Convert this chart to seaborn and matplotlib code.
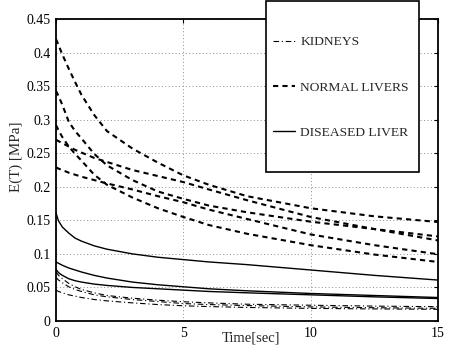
import numpy as np
import pandas as pd
import matplotlib
matplotlib.use('Agg')
import matplotlib.pyplot as plt
import seaborn as sns
from matplotlib.lines import Line2D
from matplotlib.patches import Rectangle

# time points (sec)
time = [0, 0.1, 0.25, 0.5, 0.75, 1, 1.5, 2, 3, 4, 5, 6, 7.5, 10, 12.5, 15]

# kidneys (dash-dot)
kidney_1 = [0.073, 0.068, 0.063, 0.056, 0.051, 0.047, 0.042, 0.038, 0.034, 0.031, 0.0287, 0.027, 0.025, 0.0235, 0.0222, 0.0213]
kidney_2 = [0.065, 0.061, 0.057, 0.051, 0.047, 0.044, 0.039, 0.036, 0.032, 0.029, 0.026, 0.0245, 0.023, 0.021, 0.0198, 0.0189]
kidney_3 = [0.046, 0.044, 0.042, 0.039, 0.037, 0.035, 0.032, 0.030, 0.027, 0.0245, 0.0227, 0.0215, 0.0202, 0.0188, 0.018, 0.0174]

# normal livers (dashed)
normal_1 = [0.42, 0.411, 0.397, 0.376, 0.356, 0.337, 0.307, 0.283, 0.257, 0.236, 0.217, 0.203, 0.186, 0.168, 0.156, 0.1475]
normal_2 = [0.343, 0.335, 0.322, 0.297, 0.283, 0.272, 0.249, 0.232, 0.21, 0.193, 0.182, 0.172, 0.162, 0.148, 0.137, 0.126]
normal_3 = [0.27, 0.268, 0.265, 0.26, 0.255, 0.251, 0.243, 0.237, 0.225, 0.216, 0.207, 0.196, 0.18, 0.155, 0.137, 0.12]
normal_4 = [0.292, 0.284, 0.274, 0.26, 0.249, 0.239, 0.218, 0.203, 0.184, 0.168, 0.155, 0.143, 0.13, 0.113, 0.099, 0.088]
normal_5 = [0.229, 0.227, 0.225, 0.221, 0.218, 0.215, 0.21, 0.205, 0.196, 0.186, 0.177, 0.166, 0.152, 0.129, 0.113, 0.0995]

# diseased liver (solid)
diseased_1 = [0.161, 0.149, 0.14, 0.131, 0.1235, 0.119, 0.112, 0.107, 0.1, 0.095, 0.0915, 0.088, 0.084, 0.076, 0.068, 0.061]
diseased_2 = [0.088, 0.086, 0.083, 0.079, 0.076, 0.073, 0.068, 0.064, 0.058, 0.054, 0.051, 0.048, 0.045, 0.041, 0.038, 0.035]
diseased_3 = [0.077, 0.072, 0.068, 0.063, 0.06, 0.058, 0.055, 0.053, 0.05, 0.048, 0.046, 0.044, 0.042, 0.039, 0.036, 0.0335]

x_ticks = [0, 5, 10, 15]
y_ticks = [0, 0.05, 0.1, 0.15, 0.2, 0.25, 0.3, 0.35, 0.4, 0.45]
y_tick_labels = ['0', '0.05', '0.1', '0.15', '0.2', '0.25', '0.3', '0.35', '0.4', '0.45']

groups = {
    'KIDNEYS': [kidney_1, kidney_2, kidney_3],
    'NORMAL LIVERS': [normal_1, normal_2, normal_3, normal_4, normal_5],
    'DISEASED LIVER': [diseased_1, diseased_2, diseased_3],
}
rows = []
for name, curves in groups.items():
    for i, c in enumerate(curves):
        for t, e in zip(time, c):
            rows.append({'tissue': name, 'curve': f'{name}_{i}', 't': t, 'E': e})
df = pd.DataFrame(rows)

styles = {
    'KIDNEYS': dict(lw=0.8, ls=(0, (5, 2.5, 1, 2.5))),
    'NORMAL LIVERS': dict(lw=1.5, ls=(0, (2.5, 2))),
    'DISEASED LIVER': dict(lw=1.0, ls='-'),
}

sns.set_style('white')
plt.rcParams['font.family'] = ['Liberation Serif', 'DejaVu Serif']

fig = plt.figure(figsize=(4.49, 3.51), dpi=100)
ax = fig.add_axes([56 / 449, 1 - 321 / 351, 382 / 449, 302 / 351])

for curve, sub in df.groupby('curve', sort=False):
    st = styles[sub['tissue'].iloc[0]]
    sns.lineplot(data=sub, x='t', y='E', color='k', linewidth=st['lw'],
                 linestyle=st['ls'], ax=ax, legend=False)

ax.set_xlim(0, 15)
ax.set_ylim(0, 0.45)
ax.set_xticks(x_ticks)
ax.set_xticklabels([str(v) for v in x_ticks])
ax.set_yticks(y_ticks)
ax.set_yticklabels(y_tick_labels)
ax.grid(True, color='0.55', linestyle=(0, (1, 2.5)), linewidth=0.7)
ax.tick_params(direction='in', length=3, width=0.8, labelsize=10, colors='k',
               top=True, right=True, pad=4)
for sp in ax.spines.values():
    sp.set_color('k')
    sp.set_linewidth(1.3)

ax.set_xlabel('Time[sec]', fontsize=10.5)
ax.xaxis.set_label_coords(0.51, -0.035)
ax.set_ylabel('E(T) [MPa]', fontsize=10.8)
ax.yaxis.set_label_coords(-0.087, 0.543)

# legend box sticking out above the axes
box = Rectangle((266 / 449, 1 - 172 / 351), 153 / 449, 171 / 351, transform=fig.transFigure,
                facecolor='white', edgecolor='k', linewidth=1.2, zorder=3)
fig.add_artist(box)
handles = [Line2D([], [], color='k', lw=styles[n]['lw'], ls=styles[n]['ls']) for n in groups]
fig.legend(handles, list(groups.keys()), loc='center left',
           bbox_to_anchor=(268 / 449, 1 - 87.5 / 351), frameon=False, fontsize=9.7,
           handlelength=1.6, handletextpad=0.4, labelspacing=2.45, borderpad=0.4,
           borderaxespad=0)

fig.savefig('out.png', dpi=100)
